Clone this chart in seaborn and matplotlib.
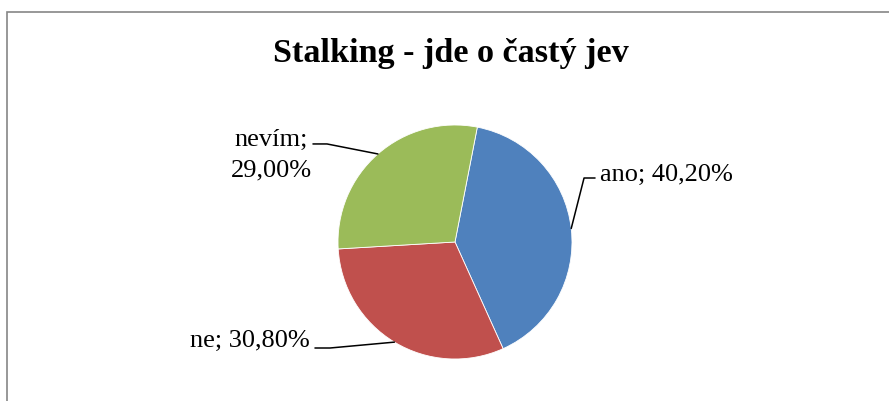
# %%
import numpy as np
import matplotlib.pyplot as plt
import seaborn as sns
from matplotlib.patches import Rectangle

# %% Dados
labels = ['ano', 'ne', 'nevím']
values = [40.20, 30.80, 29.00]
colors = ['#4F81BD', '#C0504D', '#9BBB59']
title = 'Stalking - jde o častý jev'

# %%
sns.set_theme(style='white')
plt.rcParams['font.family'] = ['Liberation Serif', 'DejaVu Serif']

fig = plt.figure(figsize=(8.89, 4.01), dpi=100)
# pie axes: centre (455, 242) px, radius 117 px
ax = fig.add_axes([338 / 889, (401 - 242 - 117) / 401, 234 / 889, 234 / 401])

wedges, _ = ax.pie(values, colors=sns.color_palette(colors), startangle=79,
                   counterclock=False, radius=1,
                   wedgeprops=dict(edgecolor='white', linewidth=0.6))
ax.set_xlim(-1, 1)
ax.set_ylim(-1, 1)
ax.set_aspect('equal')
ax.axis('off')

# rótulos com linhas de chamada (elbow, fim da linha, texto, alinhamento)
layout = [
    ((1.103, 0.547), (1.197, 0.547), (1.239, 0.521), 'left'),
    ((-1.068, -0.906), (-1.197, -0.906), (-1.239, -0.897), 'right'),
    ((-1.094, 0.838), (-1.214, 0.838), (-1.225, 0.556), 'right'),
]
for w, lab, val, (elbow, end, txt, ha) in zip(wedges, labels, values, layout):
    mid = np.deg2rad((w.theta1 + w.theta2) / 2)
    anchor = (np.cos(mid), np.sin(mid))
    ax.plot([anchor[0], elbow[0], end[0]], [anchor[1], elbow[1], end[1]],
            color='black', lw=1.1, clip_on=False)
    s = f'{lab}; {val:.2f}%'.replace('.', ',')
    if lab == 'nevím':
        s = s.replace('; ', ';\n')
    ax.text(txt[0], txt[1], s, ha=ha, va='baseline', multialignment='center',
            fontsize=19, color='black', linespacing=1.5)

fig.text(451 / 889, 1 - 62 / 401, title, ha='center', va='baseline',
         fontsize=24.6, fontweight='bold', color='black')

# borda do gráfico
fig.patches.append(Rectangle((6.5 / 889, -0.05), 1.2, 1 - 11.5 / 401 + 0.05,
                             transform=fig.transFigure, fill=False,
                             edgecolor='#868686', linewidth=1.2))

fig.savefig('out.png', dpi=100)
